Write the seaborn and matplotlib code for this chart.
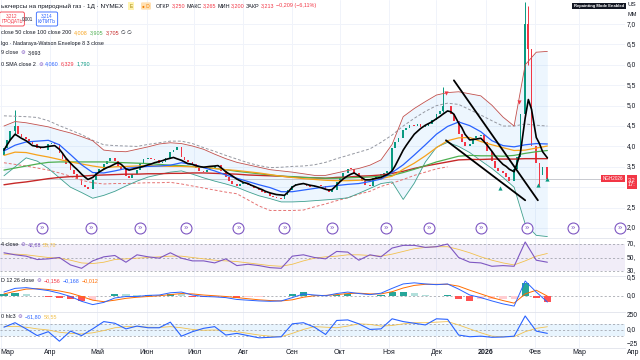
import numpy as np
import pandas as pd
import matplotlib
matplotlib.use("Agg")
import matplotlib.pyplot as plt
import matplotlib.dates as mdates
import matplotlib.transforms as mtransforms
import seaborn as sns

nan = np.nan

# ---- candles (Mon / Wed / Fri), one row per week ----
candle_start = "2025-03-03"
candle_end = "2026-02-09"
first_open = 3.80
closes = [
    3.95, 4.15, 4.38, 4.50, 4.30, 4.22, 4.17, 4.12, 4.06, 3.96, 3.93, 3.92,
    4.05, 4.08, 4.05, 3.85, 3.68, 3.57, 3.42, 3.32, 3.20, 3.05, 3.00, 2.96,
    3.18, 3.35, 3.45, 3.57, 3.65, 3.72, 3.65, 3.52, 3.44, 3.28, 3.22, 3.32,
    3.42, 3.60, 3.68, 3.72, 3.70, 3.66, 3.60, 3.62, 3.72, 3.86, 3.92, 3.98,
    3.75, 3.66, 3.63, 3.56, 3.48, 3.40, 3.38, 3.42, 3.46, 3.53, 3.55, 3.40,
    3.24, 3.16, 3.08, 3.02, 3.08, 3.09, 3.06, 3.02, 2.97, 2.93, 2.89, 2.85,
    2.79, 2.76, 2.74, 2.72, 2.82, 2.93, 3.03, 3.07, 3.09, 3.08, 3.03, 3.00,
    3.03, 3.04, 3.03, 2.95, 2.88, 2.93, 3.12, 3.25, 3.35, 3.45, 3.44, 3.36,
    3.24, 3.15, 3.05, 3.02, 3.22, 3.28, 3.33, 3.35, 3.40, 3.95, 4.12, 4.20,
    4.40, 4.46, 4.52, 4.50, 4.55, 4.48, 4.50, 4.55, 4.66, 4.80, 4.88, 5.00,
    4.98, 4.80, 4.62, 4.30, 4.10, 4.02, 4.05, 4.20, 4.26, 4.28, 4.10, 3.90,
    3.65, 3.47, 3.40, 3.35, 3.25, 3.15, 3.45, 3.75, 4.80, 7.00, 6.40, 4.00,
    3.60, 3.30, 3.50, 3.21,
]
# short moving average (black), same dates as the candles
sma_short = [
    3.91, 4.04, 4.16, 4.30, 4.25, 4.20, 4.14, 4.08, 4.02, 4.00, 3.98, 3.98,
    4.00, 4.01, 4.02, 3.93, 3.83, 3.72, 3.59, 3.51, 3.44, 3.32, 3.25, 3.19,
    3.24, 3.31, 3.37, 3.44, 3.48, 3.51, 3.57, 3.60, 3.56, 3.45, 3.42, 3.44,
    3.47, 3.49, 3.51, 3.55, 3.57, 3.60, 3.63, 3.65, 3.68, 3.71, 3.73, 3.70,
    3.66, 3.62, 3.58, 3.56, 3.53, 3.51, 3.49, 3.50, 3.51, 3.52, 3.53, 3.48,
    3.38, 3.33, 3.28, 3.20, 3.16, 3.12, 3.09, 3.05, 3.02, 2.97, 2.94, 2.90,
    2.86, 2.84, 2.82, 2.81, 2.80, 2.87, 3.00, 3.05, 3.07, 3.09, 3.07, 3.05,
    3.03, 3.01, 2.99, 2.95, 2.93, 2.94, 3.05, 3.13, 3.20, 3.28, 3.32, 3.35,
    3.28, 3.23, 3.18, 3.18, 3.20, 3.22, 3.24, 3.28, 3.31, 3.40, 3.53, 3.68,
    3.91, 4.03, 4.14, 4.30, 4.37, 4.44, 4.52, 4.56, 4.60, 4.68, 4.73, 4.79,
    4.87, 4.85, 4.79, 4.57, 4.46, 4.30, 4.16, 4.17, 4.18, 4.20, 4.12, 4.03,
    3.88, 3.77, 3.68, 3.56, 3.51, 3.44, 3.38, 3.60, 3.85, 4.70, 5.15, 4.91,
    4.22, 4.07, 3.87, 3.72,
]
wick_dates = ["2025-03-10", "2025-12-05", "2026-01-26", "2026-01-28", "2026-02-04"]
wick_highs = [4.89, 5.45, 7.55, 7.45, 3.55]
wick_lows = [4.28, 4.85, 4.75, 6.00, 3.02]

# ---- weekly indicator readings (every Monday) ----
bb_basis = [3.89, 4.03, 4.11, 4.13, 4.15, 4.04, 3.80, 3.55, 3.36, 3.35,
            3.40, 3.46, 3.49, 3.51, 3.52, 3.54, 3.60, 3.56, 3.48, 3.40,
            3.30, 3.22, 3.14, 3.06, 2.99, 2.89, 2.89, 2.93, 2.97, 3.01,
            3.04, 3.07, 3.09, 3.14, 3.20, 3.36, 3.55, 3.79, 4.04, 4.30,
            4.49, 4.60, 4.51, 4.36, 4.14, 4.02, 3.99, 4.04, 4.07, 4.06]
bb_upper = [4.50, 4.61, 4.58, 4.53, 4.48, 4.40, 4.33, 4.24, 4.14, 3.91,
            3.88, 3.87, 3.93, 3.99, 4.06, 4.09, 4.07, 4.01, 3.93, 3.81,
            3.70, 3.61, 3.55, 3.49, 3.43, 3.40, 3.37, 3.33, 3.29, 3.29,
            3.35, 3.41, 3.46, 3.54, 3.67, 4.05, 4.73, 4.93, 5.10, 5.26,
            5.32, 5.34, 5.29, 5.24, 5.01, 4.72, 4.50, 6.00, 6.31, 6.33]
bb_lower = [3.28, 3.50, 3.72, 3.64, 3.46, 3.23, 3.00, 2.87, 2.73, 2.80,
            2.90, 3.03, 3.15, 3.25, 3.31, 3.37, 3.40, 3.32, 3.23, 3.15,
            3.08, 3.00, 2.89, 2.79, 2.72, 2.64, 2.64, 2.65, 2.67, 2.69,
            2.71, 2.74, 2.85, 2.97, 3.09, 3.13, 2.70, 3.10, 3.62, 3.98,
            4.10, 4.00, 3.85, 3.65, 3.46, 3.24, 3.00, 2.10, 1.82, 1.79]
sma50 = [3.78, 3.86, 3.85, 3.79, 3.74, 3.68, 3.62, 3.57, 3.52, 3.48,
         3.50, 3.51, 3.52, 3.53, 3.52, 3.51, 3.51, 3.50, 3.49, 3.46,
         3.43, 3.41, 3.38, 3.35, 3.31, 3.27, 3.24, 3.21, 3.19, 3.17,
         3.16, 3.16, 3.17, 3.19, 3.21, 3.27, 3.44, 3.59, 3.77, 3.97,
         4.14, 4.21, 4.22, 4.12, 4.04, 3.97, 3.90, 3.91, 3.96, 4.01]
sma100 = [3.42, 3.47, 3.52, 3.57, 3.61, 3.62, 3.62, 3.62, 3.62, 3.62,
          3.61, 3.60, 3.59, 3.58, 3.56, 3.54, 3.53, 3.51, 3.49, 3.46,
          3.43, 3.39, 3.36, 3.33, 3.30, 3.27, 3.26, 3.24, 3.23, 3.22,
          3.22, 3.23, 3.24, 3.25, 3.27, 3.29, 3.36, 3.44, 3.53, 3.62,
          3.69, 3.76, 3.78, 3.77, 3.77, 3.76, 3.78, 3.83, 3.87, 3.90]
sma200 = [3.06, 3.10, 3.13, 3.17, 3.21, 3.24, 3.26, 3.27, 3.29, 3.30,
          3.31, 3.32, 3.32, 3.33, 3.33, 3.34, 3.34, 3.35, 3.35, 3.34,
          3.33, 3.32, 3.30, 3.29, 3.28, 3.27, 3.25, 3.24, 3.23, 3.22,
          3.24, 3.25, 3.27, 3.28, 3.30, 3.34, 3.39, 3.46, 3.52, 3.57,
          3.62, 3.67, 3.68, 3.68, 3.69, 3.69, 3.69, 3.70, 3.70, 3.70]
nw_upper = [4.75, 4.74, 4.73, 4.71, 4.63, 4.51, 4.40, 4.29, 4.15, 4.04,
            4.02, 4.01, 4.00, 4.05, 4.09, 4.13, 4.13, 4.07, 3.97, 3.88,
            3.78, 3.69, 3.60, 3.53, 3.48, 3.49, 3.51, 3.52, 3.55, 3.61,
            3.70, 3.78, 3.86, 3.94, 4.10, 4.28, 4.50, 4.69, 4.86, 5.00,
            5.06, 5.03, 4.90, 4.77, 4.63, 4.50, 4.50, 4.55, 4.52, 4.50]
nw_lower = [3.60, 3.56, 3.52, 3.47, 3.42, 3.35, 3.27, 3.17, 3.11, 3.08,
            3.09, 3.09, 3.10, 3.11, 3.11, 3.12, 3.08, 3.03, 2.98, 2.93,
            2.88, 2.84, 2.69, 2.54, 2.43, 2.43, 2.43, 2.44, 2.52, 2.59,
            2.67, 2.74, 2.83, 2.90, 3.02, 3.10, 3.19, 3.29, 3.37, 3.45,
            3.50, nan, nan, nan, nan, nan, nan, nan, nan, nan]

rsi = [57, 54, 52, 47, 48, 50, 39, 34, 45, 51, 53, 43, 54, 51, 49, 57, 49,
       45, 45, 42, 48, 38, 40, 38, 35, 34, 52, 54, 50, 48, 59, 58, 46, 54,
       51, 64, 68, 68, 65, 66, 70, 50, 43, 42, 37, 38, 37, 73, 46, 43]
rsi_ma = [55, 55, 54, 52, 50, 49, 46, 42, 41, 43, 47, 48, 49, 50, 51, 52, 52,
          50, 48, 46, 45, 44, 42, 40, 38, 37, 40, 45, 49, 51, 52, 54, 54, 53,
          52, 55, 59, 63, 65, 66, 66, 62, 57, 51, 46, 42, 39, 45, 52, 56]
macd = [0.10, 0.20, 0.22, 0.18, 0.14, 0.07, -0.02, -0.15, -0.24, -0.18,
        -0.06, -0.02, -0.02, 0.01, 0.02, 0.08, 0.10, 0.02, -0.02, -0.03,
        -0.05, -0.10, -0.12, -0.14, -0.15, -0.14, -0.05, 0.05, 0.02, 0.00,
        0.06, 0.10, 0.06, 0.03, 0.07, 0.20, 0.32, 0.35, 0.32, 0.30,
        0.32, 0.18, 0.02, -0.05, -0.14, -0.22, -0.28, 0.40, 0.10, -0.17]
macd_signal = [0.05, 0.12, 0.18, 0.19, 0.17, 0.13, 0.07, -0.02, -0.12, -0.16,
               -0.12, -0.07, -0.04, -0.02, 0.00, 0.03, 0.06, 0.05, 0.02, 0.00,
               -0.02, -0.05, -0.08, -0.11, -0.13, -0.14, -0.11, -0.04, 0.00, 0.01,
               0.03, 0.06, 0.07, 0.05, 0.05, 0.11, 0.21, 0.28, 0.31, 0.31,
               0.31, 0.26, 0.15, 0.05, -0.05, -0.13, -0.20, 0.05, 0.15, -0.01]
macd_hist = [0.05, 0.08, 0.04, -0.01, -0.03, -0.06, -0.09, -0.13, -0.12, -0.02,
             0.06, 0.05, 0.02, 0.03, 0.02, 0.05, 0.04, -0.03, -0.04, -0.03,
             -0.03, -0.05, -0.04, -0.03, -0.02, 0.00, 0.06, 0.09, 0.02, -0.01,
             0.03, 0.04, -0.01, -0.02, 0.02, 0.09, 0.11, 0.07, 0.01, -0.01,
             0.01, -0.08, -0.13, -0.10, -0.09, -0.09, -0.08, 0.35, -0.05, -0.16]
cci = [50, 130, 20, -100, -30, -200, -20, -100, 20, 150, 120, 20, 70, 40, 40,
       140, -110, -30, 30, 60, -90, -60, -100, -140, -130, -120, 110, 130, 50,
       -80, 170, 180, 110, 10, 20, 200, 150, 120, 90, 200, 190, -90, -120,
       -110, -130, -125, -110, 250, -20, -60]
cci_ma = [60, 65, 50, 20, 0, -40, -60, -70, -50, -10, 40, 60, 60, 50, 45, 60,
          40, 10, -5, 0, -10, -30, -60, -90, -110, -120, -60, 10, 60, 50, 40,
          70, 110, 100, 70, 80, 110, 130, 130, 140, 150, 90, 20, -50, -110,
          -120, -120, -30, 30, 58]

trend_a = (["2025-12-12", "2026-02-03"], [5.62, 2.68])
trend_b = (["2025-12-07", "2026-01-26"], [4.15, 2.68])
buy_dates = ["2026-01-10", "2026-02-03", "2026-02-09"]
buy_prices = [2.97, 3.05, 3.19]
sell_dates = ["2025-12-07", "2026-01-22"]
sell_prices = [5.30, 5.10]
event_dates = ["2025-03-27", "2025-04-27", "2025-05-28", "2025-06-26",
               "2025-07-29", "2025-08-27", "2025-09-26", "2025-10-30",
               "2025-11-26", "2025-12-29", "2026-01-27", "2026-02-25",
               "2026-03-27"]
last_price = 3.213
month_labels = ["Мар", "Апр", "Май", "Июн", "Июл", "Авг", "Сен", "Окт",
                "Ноя", "Дек", "2026", "Фев", "Мар", "Апр"]
price_ticks = [7.0, 6.5, 6.0, 5.5, 5.0, 4.5, 4.0, 3.5, 2.5, 2.0]

# ---- style ----
sns.set_theme(style="white")
plt.rcParams["font.family"] = ["Liberation Sans", "DejaVu Sans"]
DARK = "#131722"
GREEN = "#089981"
RED = "#F23645"
BLUE = "#2962FF"
PURPLE = "#7E57C2"
ORANGE = "#F7A21B"
MA_GREEN = "#4CAF50"
MA_RED = "#C62828"
YELLOW = "#F2C14E"
GRID = "#F0F3FA"

W, H = 640, 360
fig = plt.figure(figsize=(6.4, 3.6), dpi=100)
fig.patch.set_facecolor("white")


def pane(top, bottom):
    return fig.add_axes([0, 1 - bottom / H, 625 / W, (bottom - top) / H])


ax = pane(0, 238)
ax_rsi = pane(238, 276)
ax_macd = pane(276, 312)
ax_cci = pane(312, 348)
panes = [ax, ax_rsi, ax_macd, ax_cci]

dates = pd.bdate_range(candle_start, candle_end, freq="C", weekmask="Mon Wed Fri")
week = dates[::3]
month_dates = pd.date_range("2025-03-01", "2026-04-01", freq="MS")

for a in panes:
    a.set_facecolor("white")
    for s in a.spines.values():
        s.set_visible(False)
    a.set_xticks([])
    a.set_yticks([])
    for m in month_dates:
        a.axvline(m, color=GRID, lw=0.7, zorder=0)
for a in panes[1:]:
    a.spines["top"].set_visible(True)
    a.spines["top"].set_color("#E0E3EB")
    a.spines["top"].set_linewidth(0.6)
ax_cci.spines["bottom"].set_visible(True)
ax_cci.spines["bottom"].set_color("#E0E3EB")
ax_cci.spines["bottom"].set_linewidth(0.6)
for v in price_ticks + [3.0]:
    ax.axhline(v, color=GRID, lw=0.7, zorder=0)

# ---- main pane ----
ax.fill_between(week, bb_lower, bb_upper, color="#2196F3", alpha=0.08, lw=0, zorder=1)


def line(a, x, y, color, lw=0.8, ls="-", z=4):
    sns.lineplot(x=x, y=y, ax=a, color=color, linewidth=lw, linestyle=ls,
                 zorder=z, legend=False, errorbar=None)


line(ax, week, nw_upper, "#9598A1", lw=0.7, ls=(0, (3, 2)))
line(ax, week, nw_lower, "#E57373", lw=0.7, ls=(0, (3, 2)))
line(ax, week, bb_upper, "#C0504D", lw=0.6)
line(ax, week, bb_lower, "#3FA08E", lw=0.6)
line(ax, week, sma200, MA_RED, lw=1.0)
line(ax, week, sma100, MA_GREEN, lw=0.9)
line(ax, week, sma50, ORANGE, lw=0.9)
line(ax, week, bb_basis, BLUE, lw=0.9)

close = np.array(closes)
opens = np.r_[first_open, close[:-1]]
up = close >= opens
body = np.where(np.abs(close - opens) < 0.012, 0.012, close - opens)
ax.bar(dates, body, bottom=opens, width=1.1, color=np.where(up, GREEN, RED),
       linewidth=0, zorder=3)
dir_by_date = dict(zip(dates, up))
wd = pd.to_datetime(wick_dates)
ax.vlines(wd, wick_lows, wick_highs, lw=0.7, zorder=3,
          colors=[GREEN if dir_by_date.get(d, True) else RED for d in wd])

line(ax, dates, sma_short, "black", lw=1.2, z=5)

for xs, ys in (trend_a, trend_b):
    ax.plot(pd.to_datetime(xs), ys, color="black", lw=1.3, zorder=6)

ax.scatter(pd.to_datetime(buy_dates), buy_prices, marker="^", s=9, color=GREEN, lw=0, zorder=6)
ax.scatter(pd.to_datetime(sell_dates), sell_prices, marker="v", s=9, color=RED, lw=0, zorder=6)

ax.axhline(last_price, color="#B2B5BE", lw=0.5, zorder=2)

ev = mdates.date2num(pd.to_datetime(event_dates))
ev_tr = mtransforms.blended_transform_factory(ax.transData, ax.transAxes)
ax.scatter(ev, np.full(len(ev), 0.042), s=62, facecolor="white", edgecolor=PURPLE,
           linewidth=0.8, transform=ev_tr, zorder=7, clip_on=False)
for e in ev:
    ax.text(e, 0.042, "»", color=PURPLE, fontsize=5.5, ha="center", va="center",
            transform=ev_tr, zorder=8, clip_on=False)

# ---- RSI ----
ax_rsi.axhspan(30, 70, color=PURPLE, alpha=0.1, lw=0)
for v in (70, 50, 30):
    ax_rsi.axhline(v, color="#9598A1", lw=0.5, ls=(0, (3, 3)))
line(ax_rsi, week, rsi_ma, YELLOW, lw=0.6)
line(ax_rsi, week, rsi, PURPLE, lw=0.8)

# ---- MACD ----
hist = np.array(macd_hist)
prev = np.r_[hist[0], hist[:-1]]
hcol = np.where(hist >= 0, np.where(hist >= prev, "#26A69A", "#B2DFDB"),
                np.where(hist < prev, "#FF5252", "#FFCDD2"))
ax_macd.axhline(0, color="#9598A1", lw=0.5, ls=(0, (3, 3)))
ax_macd.bar(week, hist, width=4.5, color=hcol, linewidth=0, zorder=2)
line(ax_macd, week, macd_signal, "#FF6D00", lw=0.7)
line(ax_macd, week, macd, BLUE, lw=0.7)

# ---- CCI ----
ax_cci.axhspan(-100, 100, color="#2196F3", alpha=0.1, lw=0)
for v in (100, 0, -100):
    ax_cci.axhline(v, color="#9598A1", lw=0.5, ls=(0, (3, 3)))
line(ax_cci, week, cci_ma, YELLOW, lw=0.6)
line(ax_cci, week, cci, BLUE, lw=0.8)

# ---- limits ----
x0, x1 = pd.Timestamp("2025-02-28 12:00"), pd.Timestamp("2026-03-30")
for a in panes:
    a.set_xlim(x0, x1)
    a.set_xlabel("")
    a.set_ylabel("")
ax.set_ylim(1.755, 7.59)
ax_rsi.set_ylim(22.6, 78.9)
ax_macd.set_ylim(-0.44, 0.535)
ax_cci.set_ylim(-321, 321)


# ---- right scale labels (only the part that fits is shown) ----
def right_labels(a, values, texts):
    tr = mtransforms.blended_transform_factory(fig.transFigure, a.transData)
    for v, t in zip(values, texts):
        fig.text(627 / W, v, t, transform=tr, fontsize=4.8, color=DARK, va="center", ha="left")


right_labels(ax, price_ticks, [f"{v:.1f}".replace(".", ",") for v in price_ticks])
right_labels(ax_rsi, [70, 50, 30], ["70,", "50,", "30,"])
right_labels(ax_macd, [0.5, 0.0], ["0,5", "0,0"])
right_labels(ax_cci, [250, 0, -250], ["250", "0,0", "−25"])
fig.text(627 / W, 1 - 5 / H, "US", fontsize=4.5, color=DARK, va="center")
fig.text(627 / W, 1 - 15 / H, "MM", fontsize=4.0, color=DARK, va="center")

# month labels
mtr = mtransforms.blended_transform_factory(ax_cci.transData, fig.transFigure)
for i, (d, lab) in enumerate(zip(mdates.date2num(month_dates), month_labels)):
    ha = "center"
    xx = d
    if i == 0:
        ha, xx = "left", mdates.date2num(x0)
    fig.text(xx, 1 - 353 / H, lab, transform=mtr, fontsize=5.0, color=DARK,
             ha=ha, va="center", fontweight="bold" if lab == "2026" else "normal")
    if i == len(month_labels) - 2:
        break
fig.text(639 / W, 1 - 353 / H, month_labels[-1], fontsize=5.0, color=DARK,
         ha="right", va="center")

# ---- header texts ----
renderer = fig.canvas.get_renderer()


def text_run(x_px, y_px, parts, size=3.9, gap=2.2):
    x = x_px
    for s, c in parts:
        t = fig.text(x / W, 1 - y_px / H, s, color=c, fontsize=size, ha="left", va="center")
        x += t.get_window_extent(renderer).width + gap


text_run(1, 6, [("ьючерсы на природный газ · 1Д · NYMEX", DARK)], size=4.6)
fig.text(131 / W, 1 - 6 / H, "E", fontsize=3.4, color="#9A7B00", ha="center", va="center",
         bbox=dict(boxstyle="square,pad=0.25", fc="#FFF3B0", ec="none"))
fig.text(146 / W, 1 - 6 / H, "● D", fontsize=3.4, color="#F57C00", ha="center", va="center",
         bbox=dict(boxstyle="round,pad=0.25", fc="#FFE0B2", ec="none"))
text_run(156, 6, [("ОТКР", DARK), ("3,250", RED), ("МАКС", DARK), ("3,265", RED),
                  ("МИН", DARK), ("3,200", RED), ("ЗАКР", DARK), ("3,213", RED),
                  ("−0,209 (−6,11%)", RED)], size=3.9, gap=1.2)

fig.text(12 / W, 1 - 19 / H, "3,212\nПРОДАТЬ", fontsize=3.3, color=RED, ha="center",
         va="center", linespacing=1.2,
         bbox=dict(boxstyle="round,pad=0.35", fc="white", ec=RED, lw=0.6))
fig.text(28 / W, 1 - 19 / H, "0,001", fontsize=3.3, color=DARK, ha="center", va="center")
fig.text(47 / W, 1 - 19 / H, "3,214\nКУПИТЬ", fontsize=3.3, color=BLUE, ha="center",
         va="center", linespacing=1.2,
         bbox=dict(boxstyle="round,pad=0.35", fc="white", ec=BLUE, lw=0.6))

text_run(1, 33, [("close 50 close 100 close 200", DARK), ("4,008", ORANGE),
                 ("3,905", MA_GREEN), ("3,705", MA_RED), ("∅ ∅", DARK)])
text_run(1, 43, [("lgo · Nadaraya-Watson Envelope 8 3 close", DARK)])
text_run(1, 53, [("9 close", DARK), ("⚙", PURPLE), ("3,693", DARK)])
text_run(1, 64, [("0 SMA close 2", DARK), ("⚙", PURPLE), ("4,060", BLUE),
                 ("6,329", RED), ("1,790", GREEN)])
text_run(1, 245, [("4 close", DARK), ("⚙", PURPLE), ("42,88", PURPLE), ("55,78", YELLOW)])
text_run(1, 281, [("D 12 26 close", DARK), ("⚙", PURPLE), ("−0,156", RED),
                  ("−0,168", BLUE), ("−0,012", "#FF6D00")])
text_run(1, 317, [("0 hlc3", DARK), ("⚙", PURPLE), ("−61,80", BLUE), ("58,55", YELLOW)])

fig.text(599 / W, 1 - 6 / H, "Repainting Mode Enabled", fontsize=3.0, color="white",
         ha="center", va="center", fontweight="bold",
         bbox=dict(boxstyle="square,pad=0.35", fc="#131722", ec="none"))
fig.text(613 / W, 1 - 178.5 / H, "NGH2026", fontsize=3.3, color="white", ha="center",
         va="center", bbox=dict(boxstyle="square,pad=0.3", fc=RED, ec="none"))
fig.text(628 / W, 1 - 182 / H, "3,2\n17:", fontsize=4.0, color="white",
         ha="left", va="center", linespacing=1.1,
         bbox=dict(boxstyle="square,pad=0.25", fc=RED, ec="none"))

fig.savefig("out.png", dpi=100, facecolor="white")
